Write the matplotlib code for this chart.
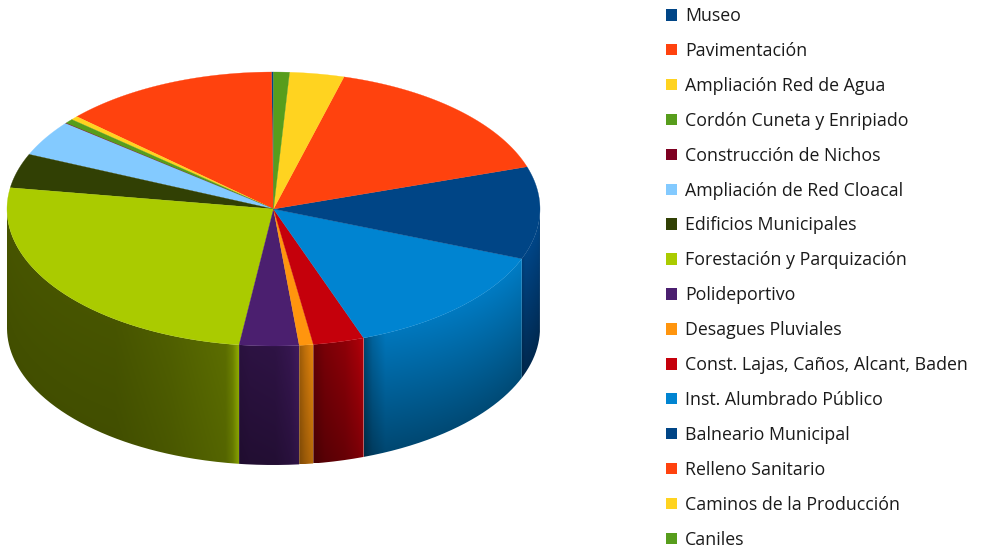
import numpy as np
import matplotlib
matplotlib.use("Agg")
import matplotlib.pyplot as plt
from matplotlib.patches import Polygon, Patch, PathPatch
from matplotlib.path import Path

categories = ["Museo", "Pavimentación", "Ampliación Red de Agua", "Cordón Cuneta y Enripiado",
              "Construcción de Nichos", "Ampliación de Red Cloacal", "Edificios Municipales",
              "Forestación y Parquización", "Polideportivo", "Desagues Pluviales",
              "Const. Lajas, Caños, Alcant, Baden", "Inst. Alumbrado Público", "Balneario Municipal",
              "Relleno Sanitario", "Caminos de la Producción", "Caniles"]
values = [0.12, 13.1, 0.45, 0.55, 0.05, 4.2, 4.05, 25.42, 3.6, 0.85, 3.1, 13.6, 10.9, 15.75, 3.3, 0.96]
colors = ["#004586", "#FF420E", "#FFD320", "#579D1C", "#7E0021", "#83CAFF", "#314004", "#AACB00",
          "#4B1F6F", "#FF950E", "#C5000B", "#0084D1", "#004586", "#FF420E", "#FFD320", "#579D1C"]

# wall shading per slice: (x stops, brightness stops, bottom brightness)
wall_shade = {
    7: ([7, 115, 170, 225, 232, 238], [.42, .42, .47, .54, .64, .85], .92),
    8: ([240, 250, 275, 290, 298], [.56, .60, .62, .72, .85], .75),
    9: ([299, 305, 313], [.60, .75, .90], .8),
    10: ([314, 325, 345, 358, 363], [.50, .62, .72, .85, .93], .72),
    11: ([364, 372, 385, 521], [.55, .75, .90, .94], .60),
    12: ([521, 525, 538, 540], [.85, 1.0, 1.0, .85], .58),
}

CX, CY, RX, RY, DEPTH = 273.5, 209.0, 266.5, 137.0, 119.0

fig = plt.figure(figsize=(9.83, 5.51), dpi=100)
ax = fig.add_axes([0, 0, 1, 1])
ax.set_axis_off()


def ell(t):
    return CX - RX * np.sin(t), CY + RY * np.cos(t) * -1


fracs = np.array(values) / np.sum(values)
edges = np.concatenate([[0], np.cumsum(fracs)]) * 2 * np.pi

# walls (front half only)
for i, (shade_x, shade_h, vb) in wall_shade.items():
    t0 = max(edges[i], np.pi / 2)
    t1 = min(edges[i + 1], 3 * np.pi / 2)
    t = np.linspace(t0, t1, 200)
    x, y = ell(t)
    poly = np.vstack([np.column_stack([x, y]),
                      np.column_stack([x[::-1], y[::-1] + DEPTH])])
    x0, x1 = x.min(), x.max()
    y0, y1 = y.min(), y.max() + DEPTH
    nx = max(int((x1 - x0) * 3), 4)
    ny = max(int((y1 - y0) * 2), 4)
    xs = np.linspace(x0, x1, nx)
    ys = np.linspace(y0, y1, ny)
    order = np.argsort(x)
    ytop = np.interp(xs, x[order], y[order])
    hprof = np.interp(xs, shade_x, shade_h)
    XX, YY = np.meshgrid(xs, ys)
    frac = np.clip((YY - ytop[None, :]) / DEPTH, 0, 1)
    bright = hprof[None, :] * (1 + (vb - 1) * frac)
    base = np.array(matplotlib.colors.to_rgb(colors[i]))
    img = np.clip(bright[..., None] * base, 0, 1)
    im = ax.imshow(img, extent=(x0, x1, y1, y0), origin="upper", aspect="auto",
                   interpolation="bilinear", zorder=2)
    im.set_clip_path(PathPatch(Path(poly), transform=ax.transData))

# top faces
for i, c in enumerate(colors):
    t = np.linspace(edges[i], edges[i + 1], max(int(np.degrees(edges[i + 1] - edges[i]) * 2), 2))
    x, y = ell(t)
    pts = np.vstack([[CX, CY], np.column_stack([x, y])])
    ax.add_patch(Polygon(pts, closed=True, facecolor=c, edgecolor=c, linewidth=0.2, zorder=3))

ax.set_xlim(0, 983)
ax.set_ylim(551, 0)

handles = [Patch(facecolor=c, edgecolor="none") for c in colors]
fs = 12.8
leg = ax.legend(handles, categories, loc="upper left", bbox_to_anchor=(666, 7),
                bbox_transform=ax.transData, frameon=False, borderpad=0, borderaxespad=0,
                prop={"family": "Open Sans", "size": fs}, labelcolor="#1a1a1a",
                handlelength=0.62, handleheight=0.62, handletextpad=0.45, labelspacing=0.951)
fig.savefig("out.png", dpi=100)
